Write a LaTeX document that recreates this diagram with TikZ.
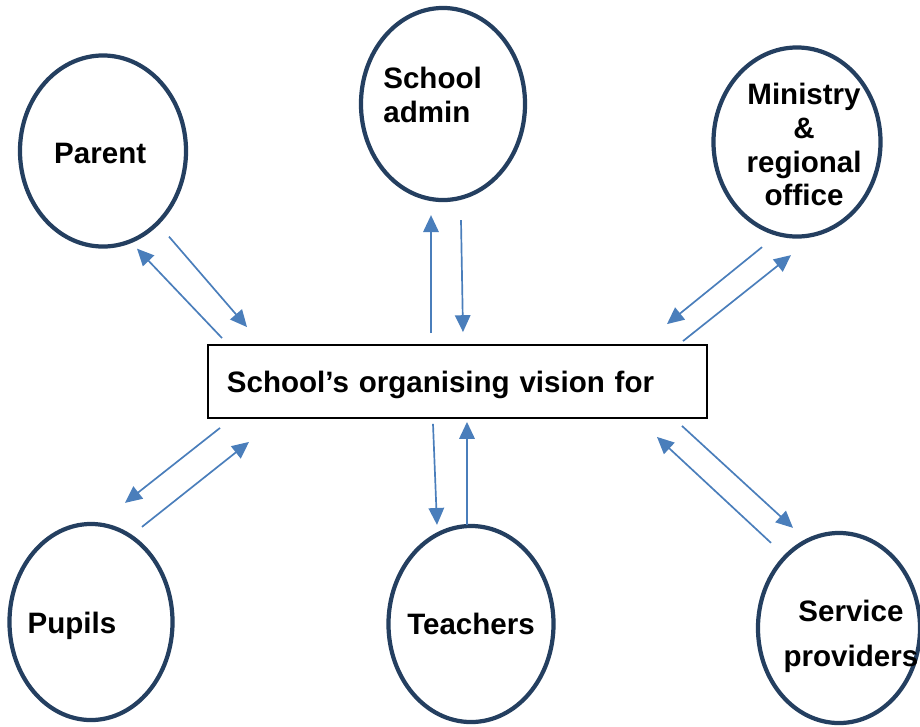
\documentclass[tikz,border=0pt]{standalone}
\usepackage{fontspec}
\setmainfont{Liberation Sans}
\usetikzlibrary{shapes.geometric, arrows.meta}

\definecolor{ringblue}{RGB}{36,63,96}
\definecolor{flowblue}{RGB}{74,126,187}

\tikzset{
    party/.style={ellipse, draw=ringblue, line width=3pt, inner sep=0pt},
    lbl/.style={font=\bfseries\fontsize{21}{24}\selectfont, align=center},
    visionbox/.style={draw=black, line width=1.3pt, minimum width=12.475cm, minimum height=1.825cm,
        inner xsep=0.475cm, text width=11.525cm, text depth=0pt, align=left,
        font=\bfseries\fontsize{21}{24}\selectfont},
    flow/.style={draw=flowblue, line width=1.2pt, -{Triangle[length=12pt, width=11pt]}},
}

\begin{document}
\begin{tikzpicture}[x=0.025cm, y=-0.025cm]
    \useasboundingbox (0,0) rectangle (920,726);

    % the school's vision in the middle
    \node[visionbox] (vision) at (457.5,381.5) {School’s organising vision for};

    % partners round it
    \node[party, minimum width=4.15cm, minimum height=4.775cm,
          label={[lbl, xshift=-2pt, yshift=-2pt]center:Parent}] (parent) at (103,151) {};
    \node[party, minimum width=4.1cm, minimum height=4.8cm,
          label={[lbl, align=left, xshift=-7.4pt, yshift=6.4pt]center:School\\admin}] (admin) at (443,104) {};
    \node[party, minimum width=4.175cm, minimum height=4.725cm,
          label={[lbl, xshift=5pt, yshift=-2pt]center:Ministry\\\&\\regional\\office}] (ministry) at (797,142) {};
    \node[party, minimum width=4.075cm, minimum height=4.9cm,
          label={[lbl, xshift=-13.5pt, yshift=-2.5pt]center:Pupils}] (pupils) at (91,622) {};
    \node[party, minimum width=4.125cm, minimum height=4.9cm, label={[lbl]center:Teachers}] (teachers) at (471,624) {};
    \node[party, minimum width=4.05cm, minimum height=4.75cm,
          label={[lbl, xshift=8.5pt, yshift=-6pt]center:Service\\[8pt]providers}] (service) at (839,628) {};

    % two-way arrows
    \draw[flow] ([shift={(15,-6)}]vision.north west) -- ([shift={(34,0)}]parent.south);
    \draw[flow] ([shift={(66,-12)}]parent.south) -- ([shift={(40,-17)}]vision.north west);

    \draw[flow] ([shift={(-26.5,-11)}]vision.north) -- ([shift={(-12,13)}]admin.south);
    \draw[flow] ([shift={(18,18)}]admin.south) -- ([shift={(5.5,-12)}]vision.north);

    \draw[flow] ([shift={(-35,8.5)}]ministry.south) -- ([shift={(-41,-20)}]vision.north east);
    \draw[flow] ([shift={(-25,-3)}]vision.north east) -- ([shift={(-6,16.5)}]ministry.south);

    \draw[flow] ([shift={(13,9)}]vision.south west) -- ([shift={(34,-19)}]pupils.north);
    \draw[flow] ([shift={(51,5)}]pupils.north) -- ([shift={(42,23)}]vision.south west);

    \draw[flow] ([shift={(-24.5,5)}]vision.south) -- ([shift={(-34,1)}]teachers.north);
    \draw[flow] ([shift={(-4,1)}]teachers.north) -- ([shift={(9.5,3)}]vision.south);

    \draw[flow] ([shift={(-68,12)}]service.north) -- ([shift={(-51,18)}]vision.south east);
    \draw[flow] ([shift={(-26,7)}]vision.south east) -- ([shift={(-46,-3)}]service.north);
\end{tikzpicture}
\end{document}
